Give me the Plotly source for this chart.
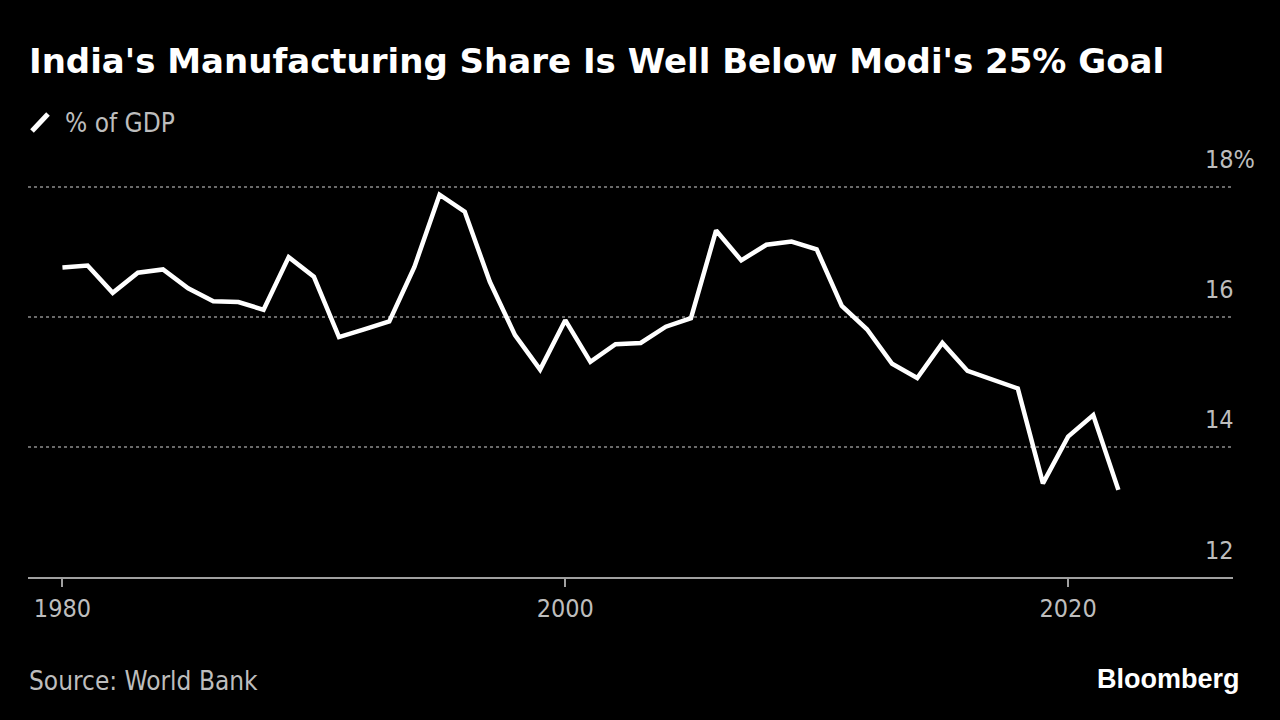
import plotly.graph_objects as go

years = list(range(1980, 2023))
share = [16.76, 16.79, 16.37, 16.68, 16.73, 16.44, 16.24, 16.23, 16.11, 16.92,
         16.62, 15.69, 15.81, 15.93, 16.77, 17.88, 17.62, 16.54, 15.72, 15.19,
         15.95, 15.31, 15.58, 15.60, 15.85, 15.98, 17.33, 16.87, 17.11, 17.16,
         17.04, 16.17, 15.81, 15.28, 15.06, 15.60, 15.17, 15.04, 14.90, 13.44,
         14.16, 14.49, 13.34]
x_ticks = [1980, 2000, 2020]
y_ticks = [12, 14, 16, 18]
y_tick_labels = ["12", "14", "16", "18%"]

title = "India's Manufacturing Share Is Well Below Modi's 25% Goal"
series_name = "% of GDP"
source = "Source: World Bank"
brand = "Bloomberg"

W, H = 1280, 720
L, R, T, B = 28, 1233, 170, 577


def px(xp):
    return (xp - L) / (R - L)


def py(yp):
    return (B - yp) / (B - T)


REG = "DejaVu Sans Condensed, Liberation Sans, Arial, sans-serif"
BOLD = "DejaVu Sans, Verdana, sans-serif"
GRAY = "#bdbdbd"

fig = go.Figure()
fig.add_trace(go.Scatter(x=years, y=share, mode="lines", name=series_name,
                         line=dict(color="white", width=4.5),
                         showlegend=False))

annotations = [
    dict(text=f"<b>{title}</b>", x=px(27), y=py(61), xref="paper", yref="paper",
         xanchor="left", yanchor="middle", showarrow=False,
         font=dict(family=BOLD, size=34, color="white")),
    dict(text=series_name, x=px(63), y=py(123), xref="paper", yref="paper",
         xanchor="left", yanchor="middle", showarrow=False,
         font=dict(family=REG, size=26, color=GRAY)),
    dict(text=source, x=px(27), y=py(681), xref="paper", yref="paper",
         xanchor="left", yanchor="middle", showarrow=False,
         font=dict(family=REG, size=26, color=GRAY)),
    dict(text=f"<b>{brand}</b>", x=px(1242), y=py(679), xref="paper", yref="paper",
         xanchor="right", yanchor="middle", showarrow=False,
         font=dict(family="Liberation Sans, Arial, sans-serif", size=27, color="white")),
]
for v, lab in zip(y_ticks, y_tick_labels):
    annotations.append(dict(text=lab, x=px(1203), y=v, xref="paper", yref="y",
                            xanchor="left", yanchor="middle", yshift=27,
                            showarrow=False,
                            font=dict(family=REG, size=25, color=GRAY)))

shapes = [
    dict(type="line", xref="paper", yref="paper",
         x0=px(32), y0=py(131), x1=px(48), y1=py(114),
         line=dict(color="white", width=5)),
]

fig.update_layout(
    width=W, height=H,
    paper_bgcolor="black", plot_bgcolor="black",
    margin=dict(l=L, r=W - R, t=T, b=H - B, pad=0),
    annotations=annotations,
    shapes=shapes,
    showlegend=False,
    xaxis=dict(range=[1978.63, 2026.56], tickvals=x_ticks,
               ticktext=[str(v) for v in x_ticks],
               showgrid=False, zeroline=False,
               showline=True, linecolor="#a0a0a0", linewidth=2,
               ticks="outside", ticklen=8, tickwidth=2, tickcolor="#a0a0a0",
               tickfont=dict(family=REG, size=25, color=GRAY)),
    yaxis=dict(range=[12, 18.26], tickvals=y_ticks, showticklabels=False,
               showgrid=True, gridcolor="#6a6a6a", gridwidth=2, griddash="dot",
               zeroline=False, showline=False, ticks=""),
)

fig.write_html("out.html",
               config={"displayModeBar": False},
               post_script="document.body.style.margin='0';"
                           "document.body.style.background='black';")
